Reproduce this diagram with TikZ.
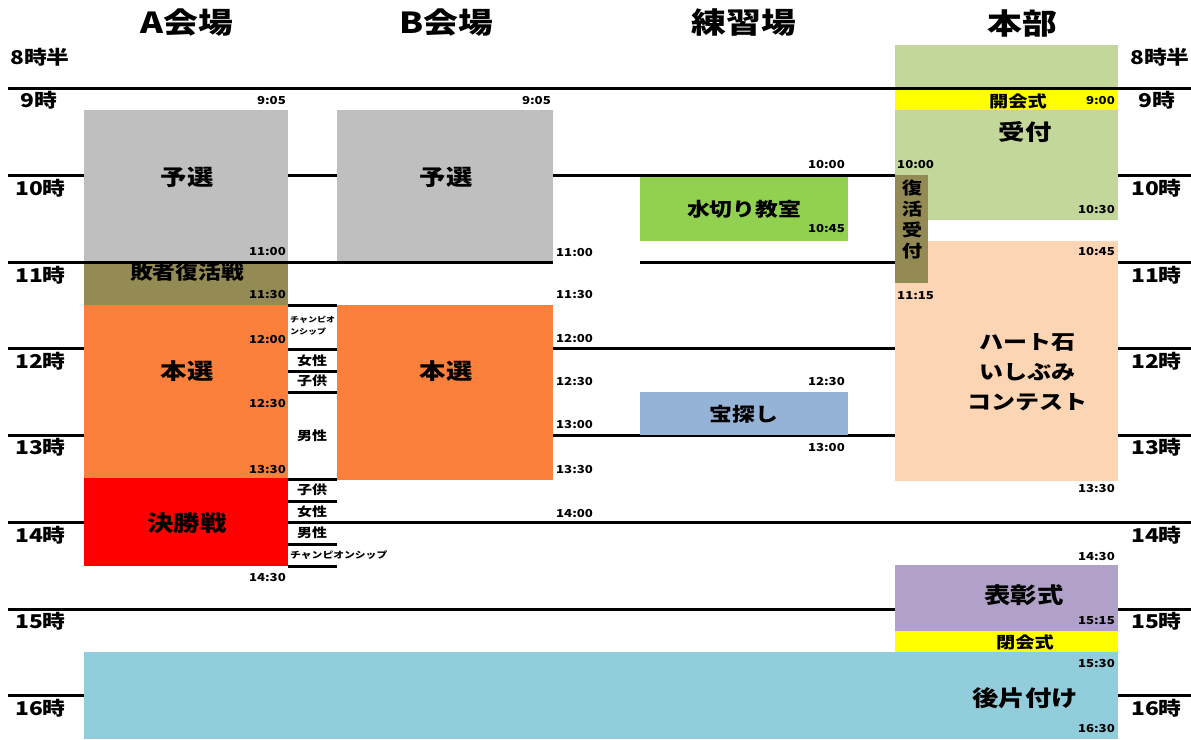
\documentclass[tikz,border=0pt]{standalone}
\usepackage{fontspec}
\newfontfamily\jp[FakeStretch=1.2]{Noto Sans CJK JP}
\definecolor{cgray}{HTML}{BFBFBF}
\definecolor{colive}{HTML}{948A54}
\definecolor{corange}{HTML}{FA803C}
\definecolor{cred}{HTML}{FF0000}
\definecolor{cgreen}{HTML}{92D050}
\definecolor{cblue}{HTML}{95B3D7}
\definecolor{cpale}{HTML}{C4D79B}
\definecolor{cyellow}{HTML}{FFFF00}
\definecolor{cpeach}{HTML}{FCD5B4}
\definecolor{cpurple}{HTML}{B1A0C7}
\definecolor{clblue}{HTML}{92CDDC}
\newcommand\mybox[6]{\node[blk,fill=#6,minimum width={(#4-#2)*1pt},minimum height={(#5-#3)*1pt}] (#1) at (#2,#3) {};}
\begin{document}
\begin{tikzpicture}[x=1pt,y=-1pt,
  hl/.style={line width=3pt},
  blk/.style={inner sep=0pt,outer sep=0pt,anchor=north west,draw=none},
  tm/.style={font=\jp\bfseries\fontsize{11}{11}\selectfont,inner sep=0pt},
  hr/.style={font=\jp\bfseries\fontsize{19}{19}\selectfont,inner sep=0pt,anchor=west},
  hd/.style={font=\jp\bfseries\fontsize{29}{29}\selectfont,inner sep=0pt},
  lb/.style={font=\jp\bfseries\fontsize{22}{22}\selectfont,inner sep=0pt},
  lbs/.style={font=\jp\bfseries\fontsize{19}{19}\selectfont,inner sep=0pt},
  lbt/.style={font=\jp\bfseries\fontsize{16}{16}\selectfont,inner sep=0pt},
  chip/.style={font=\jp\bfseries\fontsize{12.5}{12.5}\selectfont,inner sep=0pt}]
\useasboundingbox[fill=white] (0,0) rectangle (1191,739);
% hour lines below boxes
\coordinate (l10a) at (8,175); \coordinate (l10b) at (1191,175);
\coordinate (l11c) at (640,262); \coordinate (l11d) at (1191,262);
\coordinate (l12a) at (8,348); \coordinate (l12b) at (1191,348);
\coordinate (l13a) at (8,435); \coordinate (l13b) at (1191,435);
\coordinate (l14a) at (8,522); \coordinate (l14b) at (1191,522);
\coordinate (l15a) at (8,609); \coordinate (l15b) at (1191,609);
\coordinate (l16a) at (8,695); \coordinate (l16b) at (1191,695);
\draw[hl] (l10a) -- (l10b);
\draw[hl] (l11c) -- (l11d);
\draw[hl] (l12a) -- (l12b);
\draw[hl] (l13a) -- (l13b);
\draw[hl] (l14a) -- (l14b);
\draw[hl] (l15a) -- (l15b);
\draw[hl] (l16a) -- (l16b);
% boxes
\mybox{ay}{84}{110}{288}{262}{cgray}
\mybox{af}{84}{262}{288}{305}{colive}
\mybox{ah}{84}{305}{288}{478}{corange}
\mybox{ak}{84}{478}{288}{566}{cred}
\mybox{by}{337}{110}{553}{262}{cgray}
\mybox{bh}{337}{305}{553}{480}{corange}
\mybox{pm}{640}{177}{848}{241}{cgreen}
\mybox{pt}{640}{392}{848}{435}{cblue}
\mybox{hg}{895}{45}{1118}{220}{cpale}
\mybox{hy}{895}{90}{1118}{110}{cyellow}
\mybox{hp}{895}{241}{1118}{481}{cpeach}
\mybox{hf}{895}{175}{928}{283}{colive}
\mybox{hs}{895}{565}{1118}{631}{cpurple}
\mybox{hc}{895}{631}{1118}{652}{cyellow}
\mybox{cl}{84}{652}{1118}{739}{clblue}
\mybox{cw}{288}{305}{337}{566}{white}
% lines on top
\coordinate (l9a) at (8,88); \coordinate (l9b) at (1191,88);
\coordinate (l11a) at (8,262); \coordinate (l11b) at (553,262);
\draw[hl] (l9a) -- (l9b);
% box labels
\node[lb] (tay) at (187,177) {予選};
\node[lbs] (taf) at (187,272) {敗者復活戦};
\draw[hl] (l11a) -- (l11b);
\node[lb] (tah) at (187,371) {本選};
\node[lb] (tak) at (187,523) {決勝戦};
\node[lb] (tby) at (446,177) {予選};
\node[lb] (tbh) at (446,371) {本選};
\node[lbs] (tpm) at (744,209) {水切り教室};
\node[lbs] (tpt) at (744,414) {宝探し};
\node[lb] (thg) at (1025,132) {受付};
\node[lbt] (thy) at (1018,101) {開会式};
\node[font=\jp\bfseries\fontsize{17}{21}\selectfont,inner sep=0pt,align=center] (thf) at (912,220) {復\\活\\受\\付};
\node[font=\jp\bfseries\fontsize{20}{30}\selectfont,inner sep=0pt,align=center] (thp) at (1027,372) {ハート石\\いしぶみ\\コンテスト};
\node[lb] (ths) at (1024,595) {表彰式};
\node[lbt] (thc) at (1025,642) {閉会式};
\node[lb] (tcl) at (1025,698) {後片付け};
% chips
\foreach \yy [count=\i] in {305,349,371,392,479,501,522,544,566}{
  \coordinate (ca\i) at (288,\yy); \coordinate (cb\i) at (337,\yy);
  \draw[hl] (ca\i) -- (cb\i);
}
\node[font=\jp\bfseries\fontsize{7.5}{12}\selectfont,inner sep=0pt,align=left,anchor=west] (c1) at (290,326) {チャンピオ\\ンシップ};
\node[chip] (c2) at (312,361) {女性};
\node[chip] (c3) at (312,381) {子供};
\node[chip] (c4) at (312,436) {男性};
\node[chip] (c5) at (312,490) {子供};
\node[chip] (c6) at (312,512) {女性};
\node[chip] (c7) at (312,533) {男性};
\node[font=\jp\bfseries\fontsize{9}{9}\selectfont,inner sep=0pt,anchor=west] (c8) at (290,555) {チャンピオンシップ};
% headers
\node[hd] (h1) at (187,23) {A会場};
\node[hd] (h2) at (446,23) {B会場};
\node[hd] (h3) at (744,23) {練習場};
\node[hd] (h4) at (1022,23) {本部};
% hour labels left
\node[hr] (L8) at (10,57) {8時半};
\node[hr] (L9) at (20,100) {9時};
\node[hr] (L10) at (15,188) {10時};
\node[hr] (L11) at (15,275) {11時};
\node[hr] (L12) at (15,361) {12時};
\node[hr] (L13) at (15,447) {13時};
\node[hr] (L14) at (15,535) {14時};
\node[hr] (L15) at (15,621) {15時};
\node[hr] (L16) at (15,708) {16時};
% hour labels right
\node[hr] (R8) at (1130,57) {8時半};
\node[hr] (R9) at (1138,100) {9時};
\node[hr] (R10) at (1131,188) {10時};
\node[hr] (R11) at (1131,275) {11時};
\node[hr] (R12) at (1131,361) {12時};
\node[hr] (R13) at (1131,447) {13時};
\node[hr] (R14) at (1131,535) {14時};
\node[hr] (R15) at (1131,621) {15時};
\node[hr] (R16) at (1131,708) {16時};
% time labels A
\node[tm,anchor=east] at (286,101) {9:05};
\node[tm,anchor=east] at (286,252) {11:00};
\node[tm,anchor=east] at (286,295) {11:30};
\node[tm,anchor=east] at (286,340) {12:00};
\node[tm,anchor=east] at (286,404) {12:30};
\node[tm,anchor=east] at (286,469) {13:30};
\node[tm,anchor=east] at (286,577) {14:30};
% time labels B
\node[tm,anchor=east] at (551,101) {9:05};
\node[tm,anchor=west] at (556,253) {11:00};
\node[tm,anchor=west] at (556,295) {11:30};
\node[tm,anchor=west] at (556,339) {12:00};
\node[tm,anchor=west] at (556,382) {12:30};
\node[tm,anchor=west] at (556,425) {13:00};
\node[tm,anchor=west] at (556,469) {13:30};
\node[tm,anchor=west] at (556,513) {14:00};
% time labels practice
\node[tm,anchor=east] at (845,165) {10:00};
\node[tm,anchor=east] at (845,229) {10:45};
\node[tm,anchor=east] at (845,382) {12:30};
\node[tm,anchor=east] at (845,447) {13:00};
% time labels HQ
\node[tm,anchor=east] at (1115,101) {9:00};
\node[tm,anchor=west] at (897,165) {10:00};
\node[tm,anchor=east] at (1115,210) {10:30};
\node[tm,anchor=east] at (1115,252) {10:45};
\node[tm,anchor=west] at (897,296) {11:15};
\node[tm,anchor=east] at (1115,488) {13:30};
\node[tm,anchor=east] at (1115,556) {14:30};
\node[tm,anchor=east] at (1115,621) {15:15};
\node[tm,anchor=east] at (1115,663) {15:30};
\node[tm,anchor=east] at (1115,728) {16:30};
\end{tikzpicture}
\end{document}
